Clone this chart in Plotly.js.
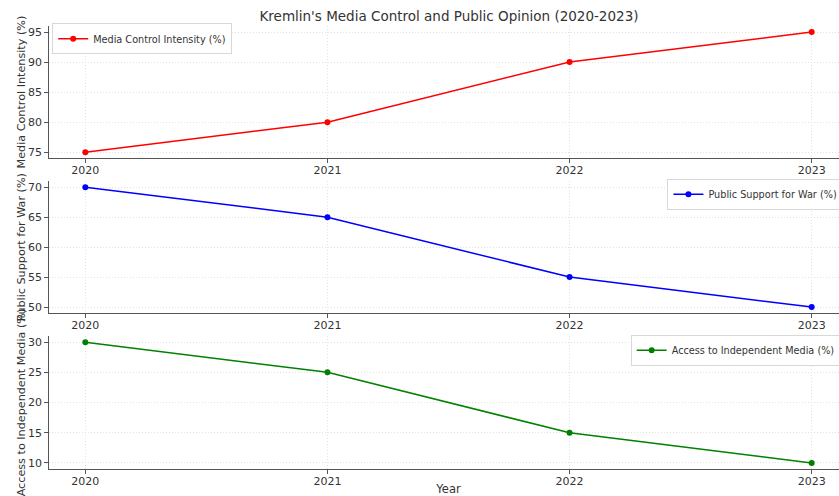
<!DOCTYPE html>
<html><head><meta charset="utf-8">
<script src="https://cdn.plot.ly/plotly-3.0.1.min.js"></script>
<style>html,body{margin:0;padding:0;overflow:hidden;background:#fff;width:839px;height:496px}</style>
</head><body><div id="chart"></div>
<script>
const years = [2020, 2021, 2022, 2023];
const mediaControl = [75, 80, 90, 95];
const publicSupport = [70, 65, 55, 50];
const independentAccess = [30, 25, 15, 10];
const tickYears = ['2020', '2021', '2022', '2023'];

const FONT = 'DejaVu Sans, sans-serif';
function tr(y, name, color, xa, ya, leg) {
  return {x: years, y: y, name: name, type: 'scatter', mode: 'lines+markers',
    line: {color: color, width: 1.5}, marker: {color: color, size: 6},
    xaxis: xa, yaxis: ya, legend: leg};
}
const data = [
  tr(mediaControl, 'Media Control Intensity (%)', '#ff0000', 'x', 'y', 'legend'),
  tr(publicSupport, 'Public Support for War (%)', '#0000ff', 'x2', 'y2', 'legend2'),
  tr(independentAccess, 'Access to Independent Media (%)', '#008000', 'x3', 'y3', 'legend3')
];
const GRID = {showgrid: true, gridcolor: '#d9d9d9', griddash: '1px,2px', gridwidth: 0.8};
function xax(anchor) {
  return Object.assign({anchor: anchor, range: [2019.85, 2023.15], tickvals: years, ticktext: tickYears,
    showline: true, linecolor: '#555', linewidth: 1.3, zeroline: false, ticklabelstandoff: -2,
    ticks: 'outside', ticklen: 3.5, tickcolor: '#555', tickfont: {family: FONT, size: 11, color: '#333'}}, GRID);
}
function yax(anchor, dom, range, title) {
  return Object.assign({anchor: anchor, domain: dom, range: range, dtick: 5,
    showline: true, linecolor: '#555', linewidth: 1.3, zeroline: false,
    ticks: 'outside', ticklen: 3.5, tickcolor: '#555', tickfont: {family: FONT, size: 11, color: '#333'},
    title: {text: title, font: {family: FONT, size: 11.2, color: '#333'}, standoff: 0}}, GRID);
}
function leg(x, y, xanchor) {
  return {x: x, y: y, xanchor: xanchor, yanchor: 'top', bgcolor: 'rgba(255,255,255,0.85)',
    bordercolor: '#d8d8d8', borderwidth: 1, font: {family: FONT, size: 9.7, color: '#333'},
    itemwidth: 30, tracegroupgap: 0};
}
const layout = {
  width: 870, height: 496,
  margin: {l: 49, r: 22, t: 26, b: 27},
  paper_bgcolor: '#fff', plot_bgcolor: '#fff',
  showlegend: true,
  title: {text: "Kremlin's Media Control and Public Opinion (2020-2023)",
    font: {family: FONT, size: 13.5, color: '#333'}, x: 449/870, xanchor: 'center', y: 0.968, yanchor: 'middle'},
  xaxis: xax('y'), xaxis2: xax('y2'),
  xaxis3: Object.assign(xax('y3'), {title: {text: 'Year', font: {family: FONT, size: 11.5, color: '#333'}, standoff: 4}}),
  yaxis: yax('x', [0.7016, 1.0], [74, 96], 'Media Control Intensity (%)'),
  yaxis2: yax('x2', [0.352, 0.6497], [49, 71], 'Public Support for War (%)'),
  yaxis3: yax('x3', [0, 0.300], [9, 31], 'Access to Independent Media (%)'),
  legend: leg(0.004, 1.006, 'left'),
  legend2: leg(0.774, 0.655, 'left'),
  legend3: leg(0.728, 0.303, 'left')
};
Plotly.newPlot('chart', data, layout, {displayModeBar: false, staticPlot: true});
</script></body></html>
